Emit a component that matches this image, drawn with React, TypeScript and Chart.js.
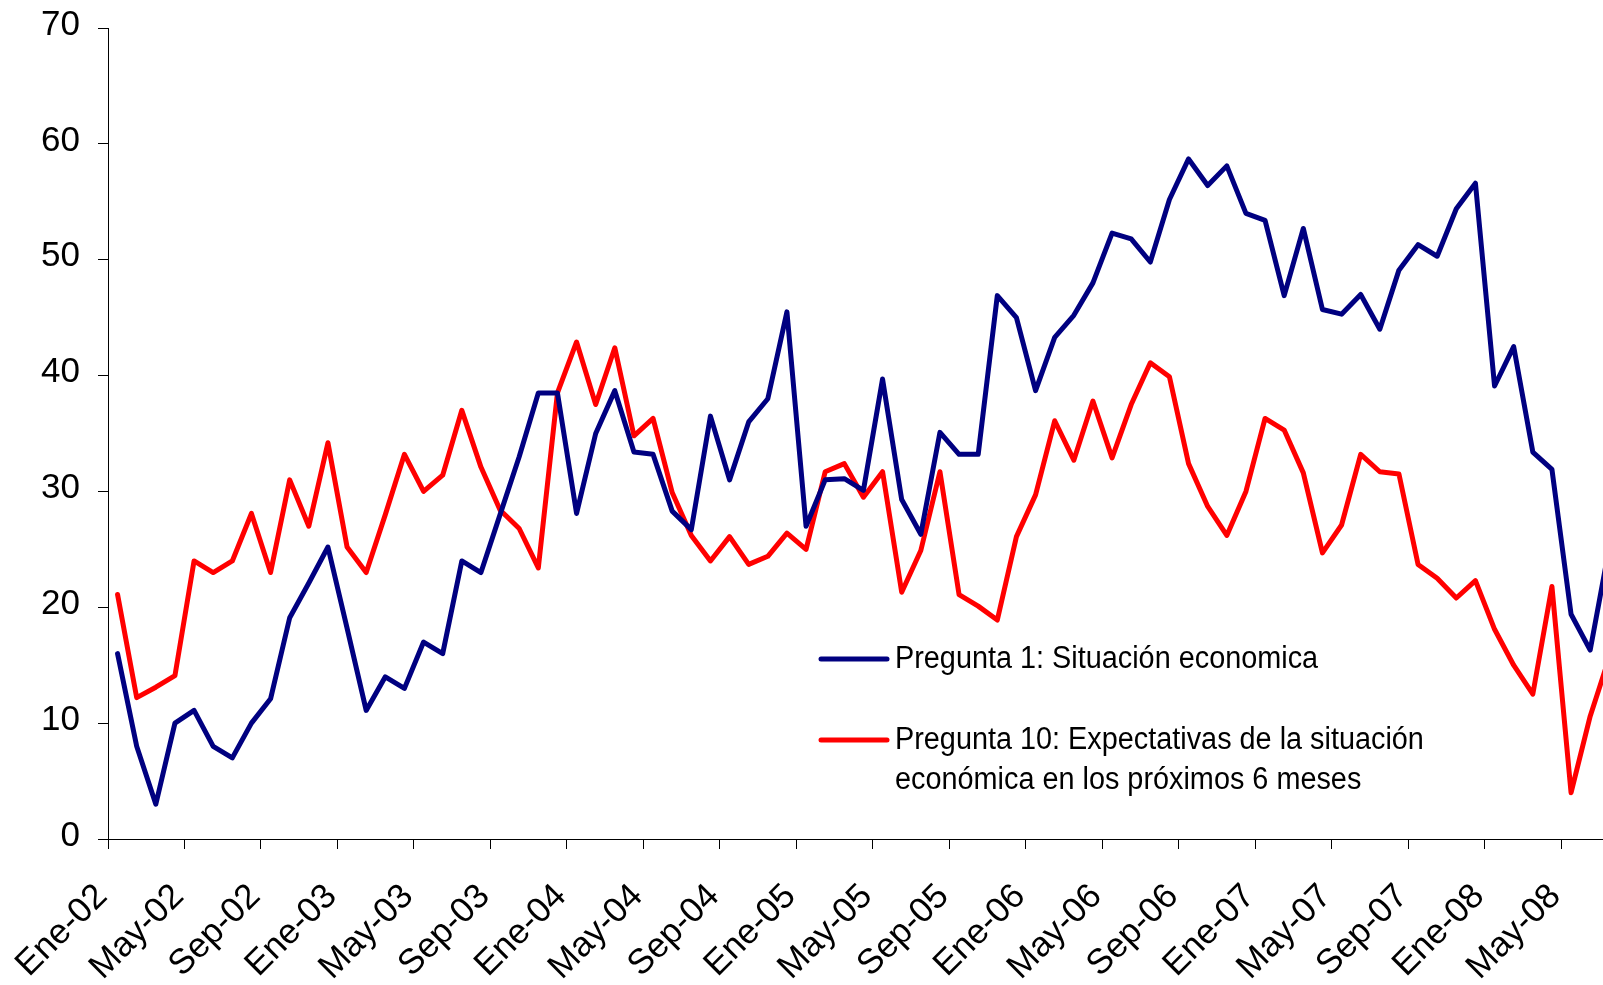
import React, { useEffect, useRef } from 'react';
import { Chart, registerables } from 'chart.js';

Chart.register(...registerables);

// ---- Data ----
const MONTH_NAMES = ['Ene', 'Feb', 'Mar', 'Abr', 'May', 'Jun', 'Jul', 'Ago', 'Sep', 'Oct', 'Nov', 'Dic'];
const YEARS = ['02', '03', '04', '05', '06', '07', '08'];
const categories: string[] = YEARS.flatMap((y) => MONTH_NAMES.map((m) => `${m}-${y}`)).slice(0, 79);

const tickLabels = [
  'Ene-02', 'May-02', 'Sep-02', 'Ene-03', 'May-03', 'Sep-03', 'Ene-04', 'May-04', 'Sep-04', 'Ene-05',
  'May-05', 'Sep-05', 'Ene-06', 'May-06', 'Sep-06', 'Ene-07', 'May-07', 'Sep-07', 'Ene-08', 'May-08',
];

const pregunta1 = [
  16.0, 8.0, 3.0, 10.0, 11.1, 8.0, 7.0, 10.0, 12.1, 19.1, 22.1, 25.2,
  18.2, 11.1, 14.0, 13.0, 17.0, 16.0, 24.0, 23.0, 28.0, 33.0, 38.5, 38.5,
  28.1, 35.0, 38.7, 33.4, 33.2, 28.3, 26.7, 36.5, 31.0, 36.0, 38.0, 45.5,
  27.0, 31.0, 31.1, 30.1, 39.7, 29.3, 26.3, 35.1, 33.2, 33.2, 46.9, 45.0,
  38.7, 43.3, 45.2, 48.0, 52.3, 51.8, 49.8, 55.2, 58.7, 56.4, 58.1, 54.0,
  53.4, 46.9, 52.7, 45.7, 45.3, 47.0, 44.0, 49.1, 51.3, 50.3, 54.4, 56.6,
  39.1, 42.5, 33.4, 31.9, 19.4, 16.3, 25.2,
];

const pregunta10 = [
  21.1, 12.2, 13.1, 14.1, 24.0, 23.0, 24.0, 28.1, 23.0, 31.0, 27.0, 34.2,
  25.2, 23.0, 28.0, 33.2, 30.0, 31.4, 37.0, 32.1, 28.4, 26.8, 23.4, 38.5,
  42.9, 37.5, 42.4, 34.8, 36.3, 29.9, 26.2, 24.0, 26.1, 23.7, 24.4, 26.4,
  25.0, 31.7, 32.4, 29.5, 31.7, 21.3, 24.9, 31.7, 21.1, 20.1, 18.9, 26.1,
  29.7, 36.1, 32.7, 37.8, 32.9, 37.5, 41.1, 39.9, 32.4, 28.7, 26.2, 30.0,
  36.3, 35.3, 31.6, 24.7, 27.1, 33.2, 31.7, 31.5, 23.7, 22.5, 20.8, 22.3,
  18.1, 15.0, 12.5, 21.8, 4.0, 10.6, 15.7,
];

const seriesNames = [
  'Pregunta 1: Situación economica',
  'Pregunta 10: Expectativas de la situación económica en los próximos 6 meses',
];
const legendLines = [
  ['Pregunta 1: Situación economica'],
  ['Pregunta 10: Expectativas de la situación', 'económica en los próximos 6 meses'],
];

const BLUE = '#000080';
const RED = '#FF0000';
const FONT = '"Liberation Sans", Arial, Helvetica, sans-serif';

const tickValues = tickLabels.map((l) => categories.indexOf(l) - 0.5);

const legendPlugin = {
  id: 'customLegend',
  afterDraw(chart: any) {
    const ctx: CanvasRenderingContext2D = chart.ctx;
    const colors = [BLUE, RED];
    const ys = [659, 740];
    const lineX1 = 821;
    const lineX2 = 887;
    const textX = 895;
    const lineGap = 40;
    ctx.save();
    legendLines.forEach((lines, i) => {
      ctx.strokeStyle = colors[i];
      ctx.lineWidth = 5;
      ctx.lineCap = 'round';
      ctx.beginPath();
      ctx.moveTo(lineX1, ys[i]);
      ctx.lineTo(lineX2, ys[i]);
      ctx.stroke();
      ctx.fillStyle = '#000';
      ctx.font = `31px ${FONT}`;
      ctx.textBaseline = 'middle';
      ctx.textAlign = 'left';
      lines.forEach((t, j) => {
        ctx.save();
        ctx.translate(textX, ys[i] + j * lineGap);
        ctx.scale(0.93, 1);
        ctx.fillText(t, 0, 0);
        ctx.restore();
      });
    });
    ctx.restore();
  },
};

export default function App() {
  const canvasRef = useRef<HTMLCanvasElement | null>(null);

  useEffect(() => {
    if (!canvasRef.current) return;
    const chart = new Chart(canvasRef.current, {
      type: 'line',
      data: {
        datasets: [
          {
            label: seriesNames[0],
            data: pregunta1.map((v, i) => ({ x: i, y: v })),
            borderColor: BLUE,
            backgroundColor: BLUE,
            borderWidth: 5,
            pointRadius: 0,
            tension: 0,
            borderJoinStyle: 'round',
            borderCapStyle: 'round',
          },
          {
            label: seriesNames[1],
            data: pregunta10.map((v, i) => ({ x: i, y: v })),
            borderColor: RED,
            backgroundColor: RED,
            borderWidth: 5,
            pointRadius: 0,
            tension: 0,
            borderJoinStyle: 'round',
            borderCapStyle: 'round',
          },
        ],
      },
      options: {
        animation: false,
        responsive: true,
        maintainAspectRatio: false,
        devicePixelRatio: 1,
        layout: { padding: { top: 28, right: 0, bottom: 0, left: 0 } },
        plugins: {
          legend: { display: false },
          tooltip: { enabled: false },
        },
        scales: {
          x: {
            type: 'linear',
            min: -0.5,
            max: 77.67,
            afterBuildTicks: (scale: any) => {
              scale.ticks = tickValues.map((v) => ({ value: v }));
            },
            afterFit: (scale: any) => {
              scale.height = 146;
              scale.paddingLeft = 0;
              scale.paddingRight = 0;
            },
            grid: {
              drawOnChartArea: false,
              drawTicks: true,
              tickLength: 10,
              color: '#000',
              lineWidth: 1,
            },
            border: { display: true, color: '#000', width: 1 },
            ticks: {
              autoSkip: false,
              minRotation: 45,
              maxRotation: 45,
              padding: 27,
              labelOffset: -6,
              color: '#000',
              font: { family: FONT, size: 35 },
              callback: (value: any) => {
                const idx = tickValues.indexOf(Number(value));
                return idx >= 0 ? tickLabels[idx] : '';
              },
            },
          },
          y: {
            min: 0,
            max: 70,
            afterFit: (scale: any) => {
              scale.width = 108;
              scale.paddingTop = 0;
              scale.paddingBottom = 0;
            },
            grid: {
              drawOnChartArea: false,
              drawTicks: true,
              tickLength: 10,
              color: '#000',
              lineWidth: 1,
            },
            border: { display: true, color: '#000', width: 1 },
            ticks: {
              stepSize: 10,
              padding: 18,
              labelOffset: -3,
              color: '#000',
              font: { family: FONT, size: 35 },
            },
          },
        },
      },
      plugins: [legendPlugin],
    });
    return () => chart.destroy();
  }, []);

  return (
    <div style={{ position: 'fixed', left: 0, top: 0, width: 1603, height: 985, overflow: 'hidden', background: '#fff' }}>
      <canvas ref={canvasRef} />
    </div>
  );
}
